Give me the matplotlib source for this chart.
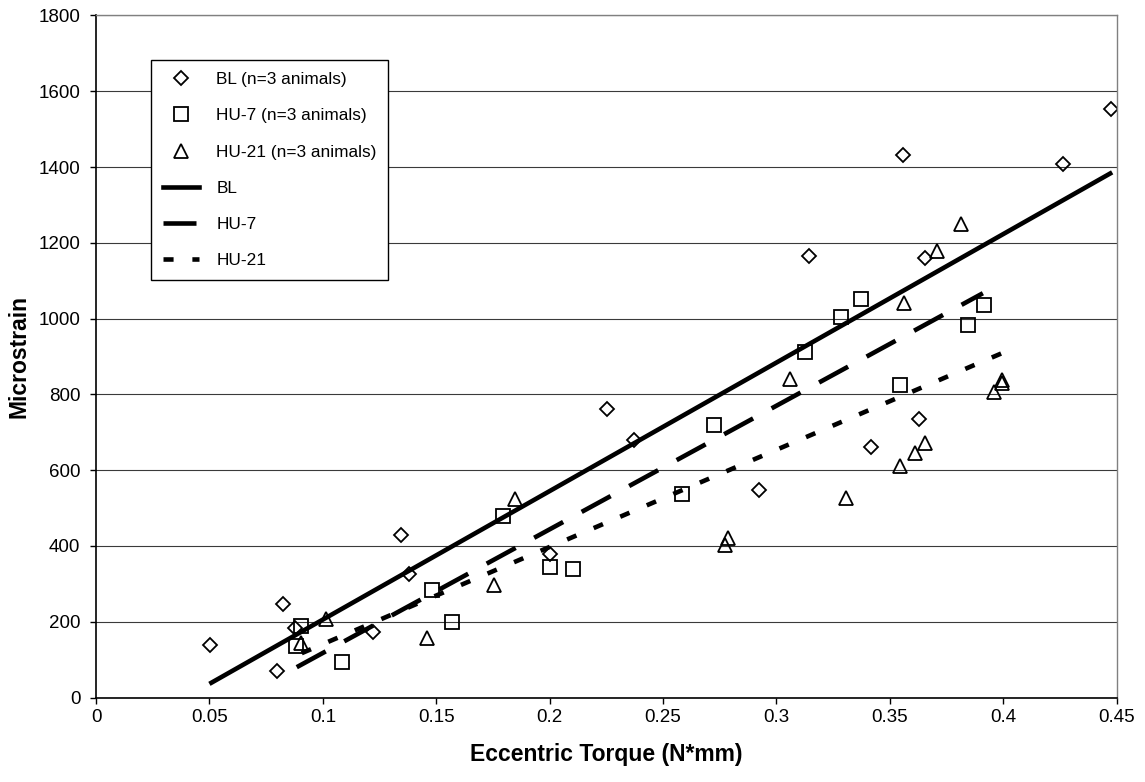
import matplotlib
matplotlib.use('Agg')
import matplotlib.pyplot as plt
from matplotlib.lines import Line2D

plt.rcParams['font.family'] = ['Liberation Sans', 'DejaVu Sans']

# ---- data ----
bl_x = [0.0503, 0.0797, 0.0823, 0.0878, 0.122, 0.1344, 0.1382, 0.2003, 0.2252,
        0.2373, 0.2922, 0.3145, 0.3417, 0.3557, 0.3627, 0.3657, 0.4264, 0.4476]
bl_y = [138, 69, 247, 184, 172, 428, 326, 380, 762,
        679, 547, 1165, 662, 1431, 734, 1160, 1409, 1554]

hu7_x = [0.0882, 0.0904, 0.1084, 0.1483, 0.157, 0.1794, 0.2003, 0.2103,
         0.2585, 0.2724, 0.3125, 0.3285, 0.3373, 0.3545, 0.3846, 0.3916]
hu7_y = [135, 188, 94, 283, 200, 480, 345, 338,
         538, 720, 911, 1005, 1052, 826, 983, 1035]

hu21_x = [0.0903, 0.1013, 0.1458, 0.1756, 0.1848, 0.2774, 0.2786, 0.306, 0.3305,
          0.3546, 0.3563, 0.361, 0.3654, 0.3707, 0.3814, 0.3958, 0.3995, 0.3995]
hu21_y = [144, 208, 157, 298, 524, 402, 421, 841, 527,
          610, 1042, 644, 672, 1178, 1250, 806, 830, 839]

# trend lines (end points)
bl_fit_x = [0.05, 0.448]
bl_fit_y = [36, 1386]
hu7_fit_x = [0.0885, 0.391]
hu7_fit_y = [80, 1067]
hu21_fit_x = [0.0907, 0.3995]
hu21_fit_y = [117, 909]

x_ticks = [0, 0.05, 0.1, 0.15, 0.2, 0.25, 0.3, 0.35, 0.4, 0.45]
x_tick_labels = ['0', '0.05', '0.1', '0.15', '0.2', '0.25', '0.3', '0.35', '0.4', '0.45']
y_ticks = [0, 200, 400, 600, 800, 1000, 1200, 1400, 1600, 1800]

# ---- figure ----
W, H = 1145, 782
fig = plt.figure(figsize=(W / 100, H / 100), dpi=100)
left, right, top, bottom = 96, 1116.7, 15.5, 697.5
ax = fig.add_axes([left / W, 1 - bottom / H, (right - left) / W, (bottom - top) / H])

ax.set_xlim(0, 0.45)
ax.set_ylim(0, 1800)
ax.set_xticks(x_ticks)
ax.set_xticklabels(x_tick_labels)
ax.set_yticks(y_ticks)

ax.yaxis.grid(True, color='#3a3a3a', lw=0.8)
ax.set_axisbelow(True)

for s in ['left', 'bottom']:
    ax.spines[s].set_color('black')
    ax.spines[s].set_linewidth(1.2)
for s in ['top', 'right']:
    ax.spines[s].set_color('#808080')
    ax.spines[s].set_linewidth(1.0)

ax.tick_params(axis='both', direction='out', length=4.3, width=1, colors='black',
               labelsize=13.5)
ax.tick_params(axis='y', pad=7)
ax.tick_params(axis='x', pad=4)

mk = dict(ls='none', mfc='none', mec='black', mew=1.3)
ax.plot(bl_x, bl_y, marker='D', ms=7.2, zorder=2, **mk)
ax.plot(hu7_x, hu7_y, marker='s', ms=10, zorder=2, **mk)
ax.plot(hu21_x, hu21_y, marker='^', ms=10.5, zorder=2, **mk)

lw = 3.3
ax.plot(bl_fit_x, bl_fit_y, color='black', lw=lw, solid_capstyle='butt', zorder=3)
ax.plot(hu7_fit_x, hu7_fit_y, color='black', lw=lw, ls=(0, (7.2, 4.6)),
        dash_capstyle='butt', zorder=3)
ax.plot(hu21_fit_x, hu21_fit_y, color='black', lw=lw, ls=(0, (2.2, 4.1)),
        dash_capstyle='butt', zorder=3)

ax.set_xlabel('Eccentric Torque (N*mm)', fontsize=16.5, fontweight='bold', labelpad=12)
ax.set_ylabel('Microstrain', fontsize=16.5, fontweight='bold', labelpad=6)

handles = [
    Line2D([], [], marker='D', ms=7.2, **mk),
    Line2D([], [], marker='s', ms=10, **mk),
    Line2D([], [], marker='^', ms=10.5, **mk),
    Line2D([], [], color='black', lw=lw),
    Line2D([], [], color='black', lw=lw, ls=(0, (7.2, 4.6))),
    Line2D([], [], color='black', lw=lw, ls=(0, (2.2, 4.1))),
]
labels = ['BL (n=3 animals)', 'HU-7 (n=3 animals)', 'HU-21 (n=3 animals)',
          'BL', 'HU-7', 'HU-21']
leg = ax.legend(handles, labels, loc='upper left',
                bbox_to_anchor=(150.7 / W, 1 - 280 / H, 237.6 / W, 220 / H),
                bbox_transform=fig.transFigure, mode='expand',
                borderaxespad=0, fontsize=12.4, labelspacing=1.23, borderpad=0.7,
                handlelength=2.1, handletextpad=1.0, frameon=True, fancybox=False,
                framealpha=1, edgecolor='black')
leg.get_frame().set_linewidth(1.0)

fig.savefig('out.png', dpi=100)
